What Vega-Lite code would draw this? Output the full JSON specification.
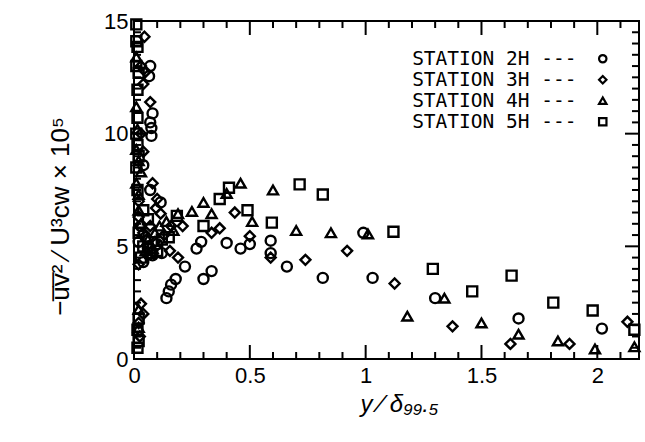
{
  "$schema": "https://vega.github.io/schema/vega-lite/v6.json",
  "width": 505,
  "height": 338,
  "autosize": "none",
  "padding": {"left": 134, "top": 21, "right": 6, "bottom": 83},
  "background": "white",
  "config": {
    "view": {"stroke": "black", "strokeWidth": 2},
    "axis": {"domain": false, "grid": false, "ticks": false, "labelColor": "black", "titleColor": "black", "labelFont": "Liberation Sans", "titleFont": "Liberation Sans", "labelFontSize": 22, "titleFontWeight": "normal"}
  },
  "datasets": {
    "xticks": [
      {"v": 0, "kind": "major"}, {"v": 0.1, "kind": "minor"}, {"v": 0.2, "kind": "minor"}, {"v": 0.3, "kind": "minor"}, {"v": 0.4, "kind": "minor"},
      {"v": 0.5, "kind": "major"}, {"v": 0.6, "kind": "minor"}, {"v": 0.7, "kind": "minor"}, {"v": 0.8, "kind": "minor"}, {"v": 0.9, "kind": "minor"},
      {"v": 1.0, "kind": "major"}, {"v": 1.1, "kind": "minor"}, {"v": 1.2, "kind": "minor"}, {"v": 1.3, "kind": "minor"}, {"v": 1.4, "kind": "minor"},
      {"v": 1.5, "kind": "major"}, {"v": 1.6, "kind": "minor"}, {"v": 1.7, "kind": "minor"}, {"v": 1.8, "kind": "minor"}, {"v": 1.9, "kind": "minor"},
      {"v": 2.0, "kind": "major"}, {"v": 2.1, "kind": "minor"}
    ],
    "yticks": [
      {"v": 0.5, "kind": "minor"}, {"v": 1, "kind": "minor"}, {"v": 1.5, "kind": "minor"}, {"v": 2, "kind": "minor"}, {"v": 2.5, "kind": "minor"},
      {"v": 3, "kind": "minor"}, {"v": 3.5, "kind": "minor"}, {"v": 4, "kind": "minor"}, {"v": 4.5, "kind": "minor"}, {"v": 5, "kind": "major"},
      {"v": 5.5, "kind": "minor"}, {"v": 6, "kind": "minor"}, {"v": 6.5, "kind": "minor"}, {"v": 7, "kind": "minor"}, {"v": 7.5, "kind": "minor"},
      {"v": 8, "kind": "minor"}, {"v": 8.5, "kind": "minor"}, {"v": 9, "kind": "minor"}, {"v": 9.5, "kind": "minor"}, {"v": 10, "kind": "major"},
      {"v": 10.5, "kind": "minor"}, {"v": 11, "kind": "minor"}, {"v": 11.5, "kind": "minor"}, {"v": 12, "kind": "minor"}, {"v": 12.5, "kind": "minor"},
      {"v": 13, "kind": "minor"}, {"v": 13.5, "kind": "minor"}, {"v": 14, "kind": "minor"}, {"v": 14.5, "kind": "minor"}
    ],
    "pts": [
      {"station": "STATION 2H", "x": 0.07, "y": 13.0},
      {"station": "STATION 2H", "x": 0.065, "y": 12.55},
      {"station": "STATION 2H", "x": 0.08, "y": 10.9},
      {"station": "STATION 2H", "x": 0.07, "y": 10.5},
      {"station": "STATION 2H", "x": 0.075, "y": 10.25},
      {"station": "STATION 2H", "x": 0.075, "y": 9.9},
      {"station": "STATION 2H", "x": 0.04, "y": 8.6},
      {"station": "STATION 2H", "x": 0.07, "y": 7.5},
      {"station": "STATION 2H", "x": 0.115, "y": 6.95},
      {"station": "STATION 2H", "x": 0.03, "y": 5.9},
      {"station": "STATION 2H", "x": 0.05, "y": 5.4},
      {"station": "STATION 2H", "x": 0.06, "y": 4.9},
      {"station": "STATION 2H", "x": 0.08, "y": 4.6},
      {"station": "STATION 2H", "x": 0.1, "y": 5.1},
      {"station": "STATION 2H", "x": 0.12, "y": 4.7},
      {"station": "STATION 2H", "x": 0.04, "y": 4.3},
      {"station": "STATION 2H", "x": 0.02, "y": 5.2},
      {"station": "STATION 2H", "x": 0.14, "y": 2.7},
      {"station": "STATION 2H", "x": 0.15, "y": 3.0},
      {"station": "STATION 2H", "x": 0.16, "y": 3.3},
      {"station": "STATION 2H", "x": 0.18, "y": 3.55},
      {"station": "STATION 2H", "x": 0.22, "y": 4.1},
      {"station": "STATION 2H", "x": 0.27, "y": 4.9},
      {"station": "STATION 2H", "x": 0.29, "y": 5.2},
      {"station": "STATION 2H", "x": 0.3, "y": 3.55},
      {"station": "STATION 2H", "x": 0.335, "y": 3.9},
      {"station": "STATION 2H", "x": 0.4, "y": 5.15},
      {"station": "STATION 2H", "x": 0.46, "y": 4.9},
      {"station": "STATION 2H", "x": 0.5, "y": 5.1},
      {"station": "STATION 2H", "x": 0.59, "y": 5.25},
      {"station": "STATION 2H", "x": 0.59, "y": 4.7},
      {"station": "STATION 2H", "x": 0.66, "y": 4.1},
      {"station": "STATION 2H", "x": 0.815, "y": 3.6},
      {"station": "STATION 2H", "x": 0.99, "y": 5.6},
      {"station": "STATION 2H", "x": 1.03, "y": 3.6},
      {"station": "STATION 2H", "x": 1.3, "y": 2.7},
      {"station": "STATION 2H", "x": 1.66, "y": 1.8},
      {"station": "STATION 2H", "x": 2.02, "y": 1.35},

      {"station": "STATION 3H", "x": 0.045, "y": 14.3},
      {"station": "STATION 3H", "x": 0.05, "y": 12.75},
      {"station": "STATION 3H", "x": 0.03, "y": 13.0},
      {"station": "STATION 3H", "x": 0.04, "y": 12.2},
      {"station": "STATION 3H", "x": 0.07, "y": 11.4},
      {"station": "STATION 3H", "x": 0.03, "y": 10.0},
      {"station": "STATION 3H", "x": 0.04, "y": 9.2},
      {"station": "STATION 3H", "x": 0.08, "y": 7.8},
      {"station": "STATION 3H", "x": 0.1, "y": 7.1},
      {"station": "STATION 3H", "x": 0.095, "y": 6.7},
      {"station": "STATION 3H", "x": 0.115, "y": 6.45},
      {"station": "STATION 3H", "x": 0.02, "y": 7.0},
      {"station": "STATION 3H", "x": 0.02, "y": 6.3},
      {"station": "STATION 3H", "x": 0.04, "y": 5.6},
      {"station": "STATION 3H", "x": 0.07, "y": 5.9},
      {"station": "STATION 3H", "x": 0.09, "y": 5.2},
      {"station": "STATION 3H", "x": 0.13, "y": 5.5},
      {"station": "STATION 3H", "x": 0.16, "y": 5.9},
      {"station": "STATION 3H", "x": 0.06, "y": 4.6},
      {"station": "STATION 3H", "x": 0.02, "y": 4.2},
      {"station": "STATION 3H", "x": 0.155, "y": 4.8},
      {"station": "STATION 3H", "x": 0.19, "y": 4.5},
      {"station": "STATION 3H", "x": 0.03, "y": 2.45},
      {"station": "STATION 3H", "x": 0.04, "y": 2.0},
      {"station": "STATION 3H", "x": 0.02, "y": 1.6},
      {"station": "STATION 3H", "x": 0.025, "y": 1.0},
      {"station": "STATION 3H", "x": 0.21, "y": 5.9},
      {"station": "STATION 3H", "x": 0.335, "y": 5.6},
      {"station": "STATION 3H", "x": 0.37, "y": 5.8},
      {"station": "STATION 3H", "x": 0.435, "y": 6.5},
      {"station": "STATION 3H", "x": 0.5, "y": 5.45},
      {"station": "STATION 3H", "x": 0.59, "y": 4.5},
      {"station": "STATION 3H", "x": 0.74, "y": 4.4},
      {"station": "STATION 3H", "x": 0.92, "y": 4.8},
      {"station": "STATION 3H", "x": 1.125, "y": 3.35},
      {"station": "STATION 3H", "x": 1.375, "y": 1.45},
      {"station": "STATION 3H", "x": 1.625, "y": 0.67},
      {"station": "STATION 3H", "x": 1.88, "y": 0.67},
      {"station": "STATION 3H", "x": 2.13, "y": 1.65},

      {"station": "STATION 4H", "x": 0.01, "y": 13.4},
      {"station": "STATION 4H", "x": 0.01, "y": 11.2},
      {"station": "STATION 4H", "x": 0.015, "y": 10.2},
      {"station": "STATION 4H", "x": 0.01, "y": 9.3},
      {"station": "STATION 4H", "x": 0.02, "y": 8.8},
      {"station": "STATION 4H", "x": 0.03, "y": 8.3},
      {"station": "STATION 4H", "x": 0.01, "y": 7.8},
      {"station": "STATION 4H", "x": 0.02, "y": 7.3},
      {"station": "STATION 4H", "x": 0.02, "y": 6.6},
      {"station": "STATION 4H", "x": 0.03, "y": 6.0},
      {"station": "STATION 4H", "x": 0.06, "y": 5.3},
      {"station": "STATION 4H", "x": 0.09, "y": 5.6},
      {"station": "STATION 4H", "x": 0.11, "y": 5.9},
      {"station": "STATION 4H", "x": 0.14, "y": 6.1},
      {"station": "STATION 4H", "x": 0.17, "y": 5.7},
      {"station": "STATION 4H", "x": 0.05, "y": 4.8},
      {"station": "STATION 4H", "x": 0.08, "y": 4.9},
      {"station": "STATION 4H", "x": 0.02, "y": 2.2},
      {"station": "STATION 4H", "x": 0.02, "y": 1.4},
      {"station": "STATION 4H", "x": 0.19, "y": 6.45},
      {"station": "STATION 4H", "x": 0.25, "y": 6.55},
      {"station": "STATION 4H", "x": 0.3, "y": 6.95},
      {"station": "STATION 4H", "x": 0.335, "y": 6.45},
      {"station": "STATION 4H", "x": 0.4, "y": 7.35},
      {"station": "STATION 4H", "x": 0.46, "y": 7.8},
      {"station": "STATION 4H", "x": 0.51, "y": 6.1},
      {"station": "STATION 4H", "x": 0.6, "y": 7.5},
      {"station": "STATION 4H", "x": 0.7, "y": 5.7},
      {"station": "STATION 4H", "x": 0.85, "y": 5.6},
      {"station": "STATION 4H", "x": 1.01, "y": 5.55},
      {"station": "STATION 4H", "x": 1.18, "y": 1.9},
      {"station": "STATION 4H", "x": 1.34, "y": 2.7},
      {"station": "STATION 4H", "x": 1.5, "y": 1.6},
      {"station": "STATION 4H", "x": 1.66, "y": 1.1},
      {"station": "STATION 4H", "x": 1.83, "y": 0.8},
      {"station": "STATION 4H", "x": 1.99, "y": 0.45},
      {"station": "STATION 4H", "x": 2.16, "y": 0.54},

      {"station": "STATION 5H", "x": 0.01, "y": 14.85},
      {"station": "STATION 5H", "x": 0.01, "y": 14.1},
      {"station": "STATION 5H", "x": 0.015, "y": 13.85},
      {"station": "STATION 5H", "x": 0.01, "y": 13.0},
      {"station": "STATION 5H", "x": 0.02, "y": 12.7},
      {"station": "STATION 5H", "x": 0.015, "y": 11.95},
      {"station": "STATION 5H", "x": 0.015, "y": 10.7},
      {"station": "STATION 5H", "x": 0.01, "y": 10.0},
      {"station": "STATION 5H", "x": 0.015, "y": 9.5},
      {"station": "STATION 5H", "x": 0.02, "y": 9.0},
      {"station": "STATION 5H", "x": 0.01, "y": 8.5},
      {"station": "STATION 5H", "x": 0.015, "y": 7.5},
      {"station": "STATION 5H", "x": 0.04, "y": 6.6},
      {"station": "STATION 5H", "x": 0.02, "y": 5.6},
      {"station": "STATION 5H", "x": 0.04, "y": 5.0},
      {"station": "STATION 5H", "x": 0.07, "y": 4.7},
      {"station": "STATION 5H", "x": 0.1, "y": 4.8},
      {"station": "STATION 5H", "x": 0.12, "y": 5.3},
      {"station": "STATION 5H", "x": 0.15, "y": 5.4},
      {"station": "STATION 5H", "x": 0.06, "y": 6.2},
      {"station": "STATION 5H", "x": 0.03, "y": 4.5},
      {"station": "STATION 5H", "x": 0.02, "y": 1.8},
      {"station": "STATION 5H", "x": 0.015, "y": 1.3},
      {"station": "STATION 5H", "x": 0.02, "y": 0.8},
      {"station": "STATION 5H", "x": 0.015, "y": 0.5},
      {"station": "STATION 5H", "x": 0.185, "y": 6.35},
      {"station": "STATION 5H", "x": 0.3, "y": 5.9},
      {"station": "STATION 5H", "x": 0.37, "y": 7.1},
      {"station": "STATION 5H", "x": 0.41, "y": 7.6},
      {"station": "STATION 5H", "x": 0.49, "y": 6.6},
      {"station": "STATION 5H", "x": 0.595, "y": 6.05},
      {"station": "STATION 5H", "x": 0.715, "y": 7.75},
      {"station": "STATION 5H", "x": 0.815, "y": 7.3},
      {"station": "STATION 5H", "x": 1.12, "y": 5.65},
      {"station": "STATION 5H", "x": 1.29, "y": 4.0},
      {"station": "STATION 5H", "x": 1.46, "y": 3.0},
      {"station": "STATION 5H", "x": 1.63, "y": 3.7},
      {"station": "STATION 5H", "x": 1.81, "y": 2.5},
      {"station": "STATION 5H", "x": 1.98, "y": 2.15},
      {"station": "STATION 5H", "x": 2.16, "y": 1.3}
    ]
  },
  "layer": [
    {
      "data": {"name": "pts"},
      "mark": {"type": "point", "filled": false, "color": "black", "strokeWidth": 2.4, "size": 100, "opacity": 1},
      "encoding": {
        "x": {"field": "x", "type": "quantitative", "scale": {"domain": [0, 2.18], "nice": false, "zero": false},
          "axis": {"orient": "bottom", "values": [0, 0.5, 1, 1.5, 2], "labelExpr": "toString(datum.value)", "labelPadding": 6, "labelFlush": false, "title": "y ⁄ δ₉₉.₅", "titleFontSize": 24, "titleFontStyle": "italic", "titlePadding": 6, "titleX": 265}},
        "y": {"field": "y", "type": "quantitative", "scale": {"domain": [0, 15], "nice": false, "zero": false},
          "axis": {"orient": "left", "values": [0, 5, 10, 15], "labelExpr": "toString(datum.value)", "labelPadding": 6, "labelFlush": false, "title": "−u̅v̅² ⁄ U³cw  × 10⁵", "titleFontSize": 26, "titlePadding": 30, "titleY": 195}},
        "shape": {"field": "station", "type": "nominal",
          "scale": {"domain": ["STATION 2H", "STATION 3H", "STATION 4H", "STATION 5H"], "range": ["circle", "diamond", "triangle-up", "square"]},
          "legend": {"orient": "none", "legendX": 459, "legendY": 28, "title": null, "labelExpr": "datum.label + ' ---'", "labelFont": "DejaVu Sans Mono", "labelFontSize": 19.5, "labelLimit": 400, "labelColor": "black", "labelAlign": "right", "labelOffset": -36, "symbolSize": 55, "symbolStrokeWidth": 2.2, "symbolStrokeColor": "black", "symbolFillColor": "transparent", "rowPadding": 0, "padding": 0}}
      }
    },
    {
      "data": {"name": "xticks"},
      "mark": {"type": "tick", "orient": "vertical", "thickness": 2, "color": "black", "opacity": 1, "clip": true},
      "encoding": {
        "x": {"field": "v", "type": "quantitative"},
        "y": {"datum": 0, "type": "quantitative"},
        "size": {"field": "kind", "type": "ordinal", "scale": {"domain": ["major", "minor"], "range": [28, 14]}, "legend": null}
      }
    },
    {
      "data": {"name": "xticks"},
      "mark": {"type": "tick", "orient": "vertical", "thickness": 2, "color": "black", "opacity": 1, "clip": true},
      "encoding": {
        "x": {"field": "v", "type": "quantitative"},
        "y": {"datum": 15, "type": "quantitative"},
        "size": {"field": "kind", "type": "ordinal", "legend": null}
      }
    },
    {
      "data": {"name": "yticks"},
      "mark": {"type": "tick", "orient": "horizontal", "thickness": 2, "color": "black", "opacity": 1, "clip": true},
      "encoding": {
        "y": {"field": "v", "type": "quantitative"},
        "x": {"datum": 0, "type": "quantitative"},
        "size": {"field": "kind", "type": "ordinal", "legend": null}
      }
    },
    {
      "data": {"name": "yticks"},
      "mark": {"type": "tick", "orient": "horizontal", "thickness": 2, "color": "black", "opacity": 1, "clip": true},
      "encoding": {
        "y": {"field": "v", "type": "quantitative"},
        "x": {"datum": 2.18, "type": "quantitative"},
        "size": {"field": "kind", "type": "ordinal", "legend": null}
      }
    }
  ]
}
